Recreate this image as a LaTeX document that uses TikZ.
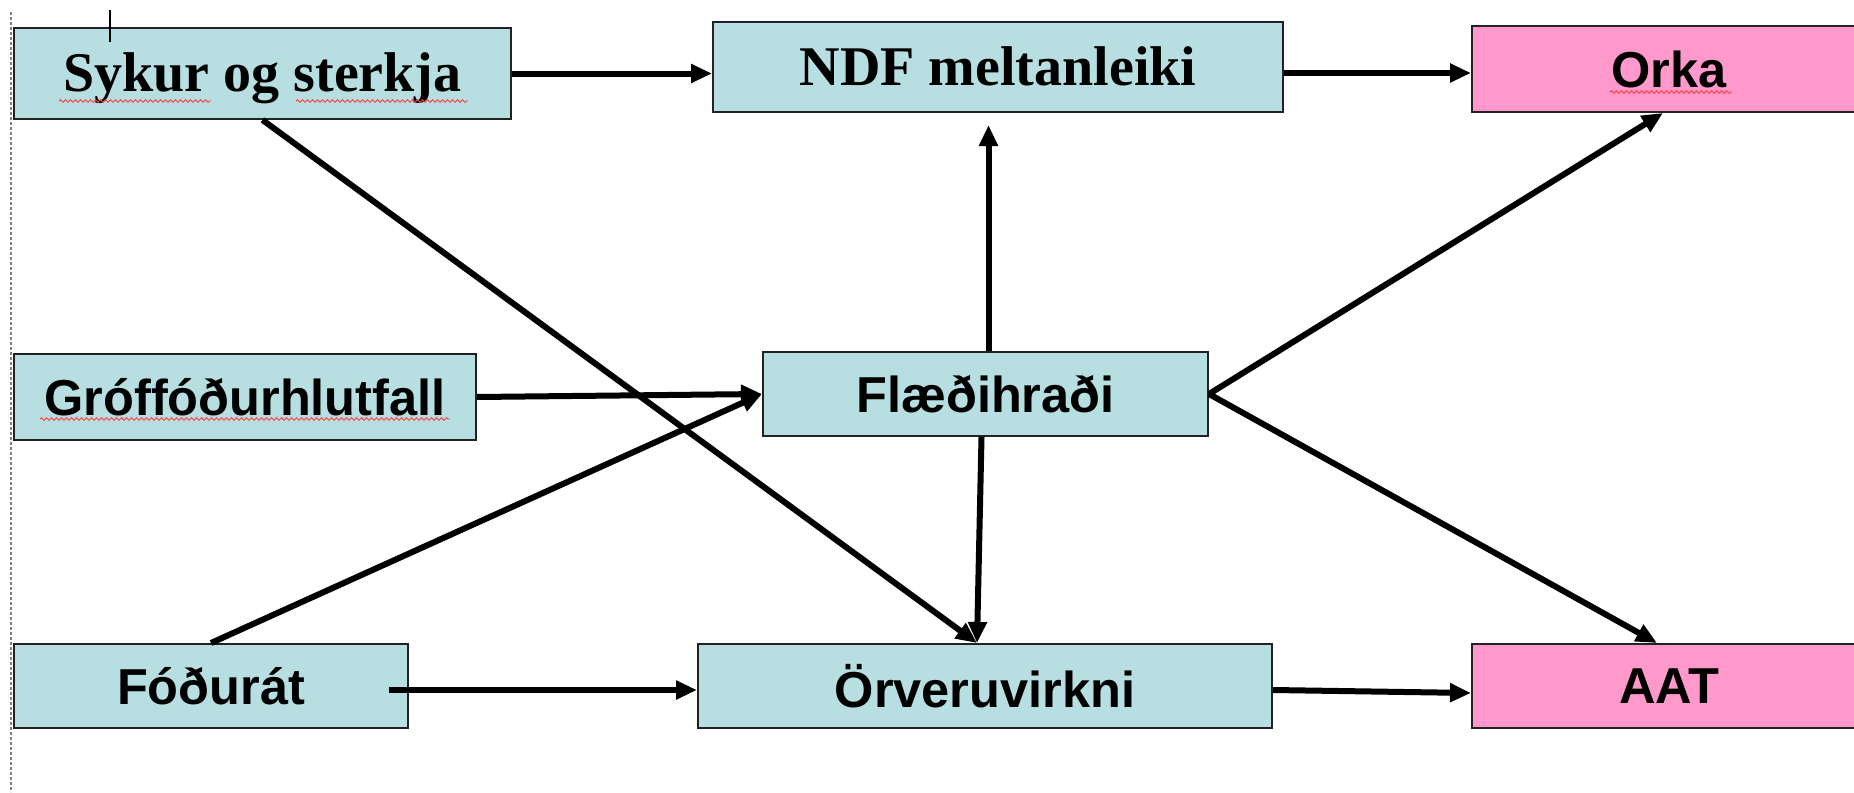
\documentclass[tikz,border=0pt]{standalone}
\usepackage{fontspec}
\setmainfont{Liberation Serif}
\setsansfont{Liberation Sans}
\usetikzlibrary{arrows.meta,decorations.pathmorphing,calc}
\definecolor{boxblue}{RGB}{183,222,224}
\definecolor{boxpink}{RGB}{255,153,204}
\definecolor{boxline}{RGB}{34,34,34}
\begin{document}
\begin{tikzpicture}[x=1pt,y=-1pt,
  box/.style={draw=boxline, line width=2pt, fill=boxblue, rectangle, inner sep=0pt,
    font=\sffamily\bfseries\fontsize{50.5}{56}\selectfont, text=black},
  serifbox/.style={box, font=\rmfamily\bfseries\fontsize{56}{62}\selectfont,
    text height=36pt, text depth=0pt},
  outbox/.style={box, fill=boxpink},
  arr/.style={line width=6pt, -{Triangle[length=21pt,width=18pt]}},
  squig/.style={red!75!white, line width=0.9pt, decorate,
    decoration={snake, amplitude=1.3pt, segment length=5pt}}]
\clip (0,0) rectangle (1854,792);
\fill[white] (0,0) rectangle (1854,792);
% nodes
\node[serifbox, minimum width=497pt, minimum height=91pt] (syk) at (262.5,73.5) {Sykur og sterkja};
\node[serifbox, minimum width=570pt, minimum height=90pt] (ndf) at (998,67) {NDF meltanleiki};
\node[outbox, minimum width=394pt, minimum height=86pt] (orka) at (1669,69) {Orka};
\node[box, minimum width=462pt, minimum height=86pt] (gro) at (245,397) {Gróffóðurhlutfall};
\node[box, minimum width=445pt, minimum height=84pt] (fla) at (985.5,394) {Flæðihraði};
\node[box, minimum width=394pt, minimum height=84pt] (fod) at (211,686) {Fóðurát};
\node[box, minimum width=574pt, minimum height=84pt] (orv) at (985,686) {Örveruvirkni};
\node[outbox, minimum width=394pt, minimum height=84pt] (aat) at (1669,686) {AAT};
% connectors
\draw[arr] (syk.east) -- (syk.east -| ndf.west);
\draw[arr] ($(ndf.east)+(0,6)$) -- ($(ndf.east -| orka.west)+(0,6)$);
\draw[arr] (syk.south) -- ($(orv.north)+(-8,0)$);
\draw[arr] ($(fla.north)+(3,0)$) -- ($(fla.north |- ndf.south)+(3,12)$);
\draw[arr] (gro.east) -- (fla.west);
\draw[arr] (fod.north) -- (fla.west);
\draw[arr] ($(fla.south)+(-4,0)$) -- ($(orv.north)+(-8,0)$);
\draw[arr] (fla.east) -- ($(orka.south)+(-6,0)$);
\draw[arr] (fla.east) -- ($(aat.north)+(-12,0)$);
\draw[arr] ($(fod.east)+(-20,4)$) -- ($(orv.west)+(0,4)$);
\draw[arr] ($(orv.east)+(0,4)$) -- ($(aat.west)+(0,7)$);
% spell-check marks
\draw[squig] (59,101) -- (211,101);
\draw[squig] (296,101) -- (468,101);
\draw[squig] (40,419) -- (450,419);
\draw[squig] (1610,92) -- (1732,92);
% page edge and cursor
\draw[gray, line width=1.2pt, dash pattern=on 3pt off 2pt] (11,12) -- (11,792);
\draw[black, line width=1.5pt] (110,10) -- (110,42);
\end{tikzpicture}
\end{document}
